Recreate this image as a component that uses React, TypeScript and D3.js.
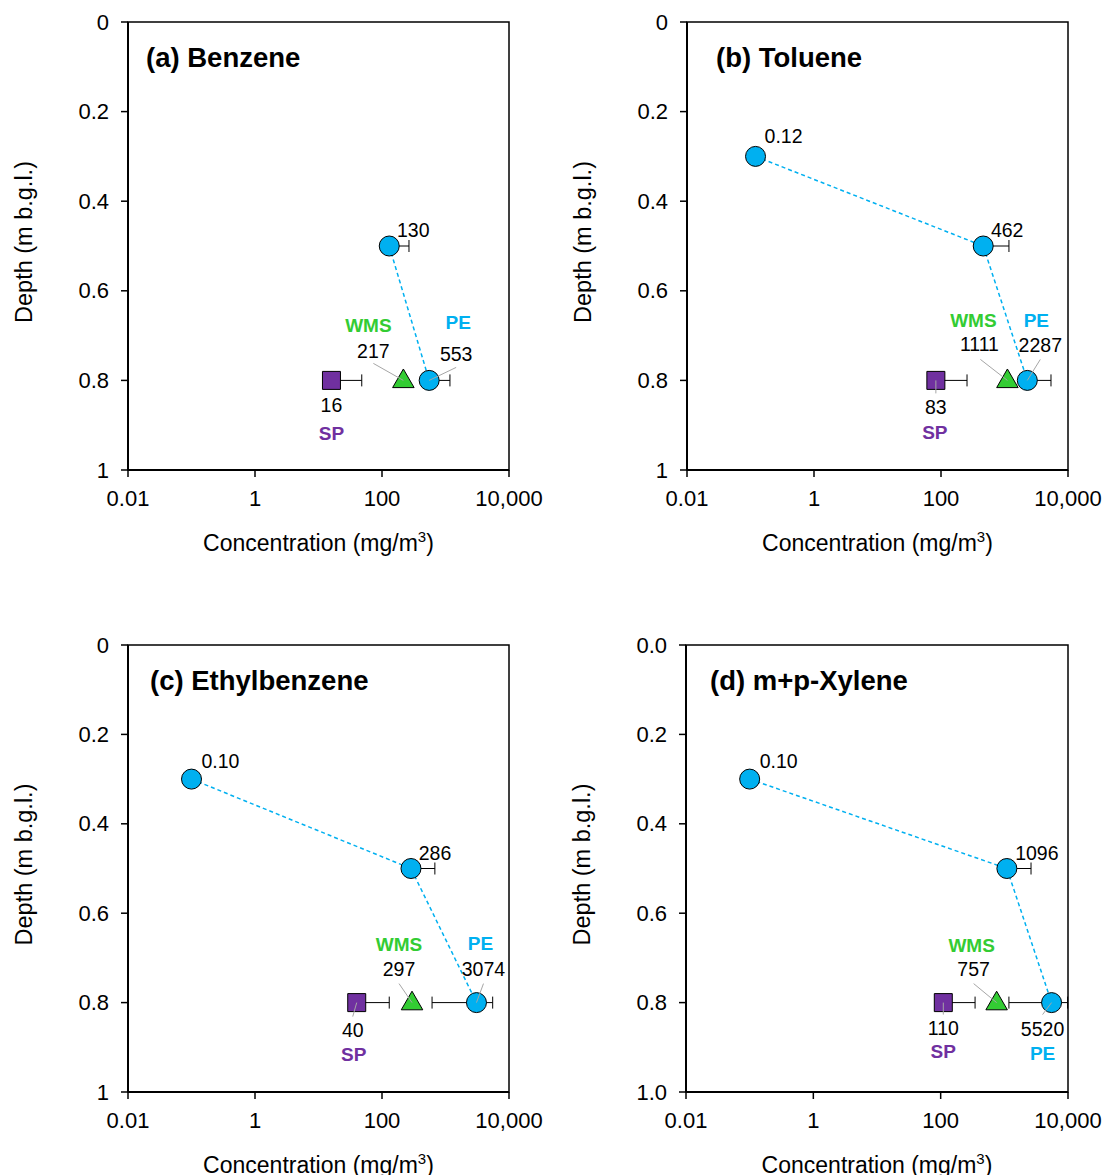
import React from "react";
import * as d3 from "d3";

// data
const panelTitles = ["(a) Benzene", "(b) Toluene", "(c) Ethylbenzene", "(d) m+p-Xylene"];
const peDepths = [[0.5, 0.8], [0.3, 0.5, 0.8], [0.3, 0.5, 0.8], [0.3, 0.5, 0.8]];
const peValues = [[130, 553], [0.12, 462, 2287], [0.1, 286, 3074], [0.1, 1096, 5520]];
const peSD = [[136, 622], [0, 713, 3110], [0, 394, 2460], [0, 1530, 4340]];
const sampleDepth = 0.8;
const wmsValues = [217, 1111, 297, 757];
const spValues = [16, 83, 40, 110];
const spSD = [32, 174, 90, 237];
const xTicks = [0.01, 1, 100, 10000];
const xTickLabels = ["0.01", "1", "100", "10,000"];
const yTicks = [0, 0.2, 0.4, 0.6, 0.8, 1];
const yTickLabels = [
  ["0", "0.2", "0.4", "0.6", "0.8", "1"],
  ["0", "0.2", "0.4", "0.6", "0.8", "1"],
  ["0", "0.2", "0.4", "0.6", "0.8", "1"],
  ["0.0", "0.2", "0.4", "0.6", "0.8", "1.0"],
];

const PE = "#00B0F0";
const WMS = "#33CC33";
const SP = "#7030A0";
const FONT = "'Liberation Sans', Arial, sans-serif";

// layout
const frames = [
  { x: 128, y: 22, w: 381, h: 448, tx: 18 },
  { x: 687, y: 22, w: 381, h: 448, tx: 29 },
  { x: 128, y: 645, w: 381, h: 447, tx: 22 },
  { x: 686, y: 645, w: 382, h: 447, tx: 24 },
];

type Lab = { dx: number; dy: number; ly?: number; lx?: number };
// value-label offsets from marker centre (ly = leader end offset)
const peLabs: Lab[][] = [
  [{ dx: 24, dy: -16 }, { dx: 27, dy: -26, lx: 27, ly: -13 }],
  [{ dx: 28, dy: -20 }, { dx: 24, dy: -16 }, { dx: 13, dy: -35, lx: 13, ly: -21 }],
  [{ dx: 29, dy: -18 }, { dx: 24, dy: -16 }, { dx: 7, dy: -34, lx: 7, ly: -19 }],
  [{ dx: 29, dy: -18 }, { dx: 30, dy: -16 }, { dx: -9, dy: 26, lx: -9, ly: 12 }],
];
const wmsLabs: Lab[] = [
  { dx: -30, dy: -29, lx: -30, ly: -17 },
  { dx: -28, dy: -36, lx: -27, ly: -21 },
  { dx: -13, dy: -34, lx: -13, ly: -19 },
  { dx: -23, dy: -34, lx: -23, ly: -19 },
];
const spLabs: Lab[] = [
  { dx: 0, dy: 25 },
  { dx: 0, dy: 27, lx: 0, ly: 13 },
  { dx: -4, dy: 27, lx: -4, ly: 14 },
  { dx: 0, dy: 25, lx: 0, ly: 12 },
];
const groupLabs = [
  { wms: [-35, -55], pe: [29, -58], sp: [0, 53] },
  { wms: [-34, -60], pe: [9, -60], sp: [-1, 52] },
  { wms: [-13, -58], pe: [4, -59], sp: [-3, 52] },
  { wms: [-25, -57], pe: [-9, 51], sp: [0, 49] },
];

const fmt = (v: number) => (v < 1 ? v.toFixed(2) : String(v));

const Panel = ({ i }: { i: number }) => {
  const f = frames[i];
  const x = d3.scaleLog().domain([0.01, 10000]).range([f.x, f.x + f.w]);
  const y = d3.scaleLinear().domain([0, 1]).range([f.y, f.y + f.h]);
  const xMin = 0.01, xMax = 10000;

  const pe = peValues[i].map((v, j) => ({ v, d: peDepths[i][j], sd: peSD[i][j], lab: peLabs[i][j] }));
  const last = pe[pe.length - 1];
  const line = d3.line<{ v: number; d: number }>().x((p) => x(p.v)).y((p) => y(p.d));

  const bars = [
    ...pe.map((p) => ({ v: p.v, d: p.d, sd: p.sd })),
    { v: spValues[i], d: sampleDepth, sd: spSD[i] },
  ].filter((b) => b.sd > 0);

  const circle = d3.symbol(d3.symbolCircle, Math.PI * 100)()!;
  const square = d3.symbol(d3.symbolSquare, 18 * 18)()!;
  const tri = d3.symbol(d3.symbolTriangle, 200)()!;

  const xw = x(wmsValues[i]), xs = x(spValues[i]), yb = y(sampleDepth);
  const xp = x(last.v);
  const g = groupLabs[i];

  const leader = (cx: number, cy: number, l: Lab) =>
    l.ly !== undefined ? (
      <line x1={cx + (l.lx ?? 0)} y1={cy + l.ly} x2={cx} y2={cy} stroke="#A6A6A6" strokeWidth={1} />
    ) : null;

  const valText = (cx: number, cy: number, l: Lab, t: string) => (
    <text x={cx + l.dx} y={cy + l.dy} textAnchor="middle" dominantBaseline="central" fontSize={19.5}>
      {t}
    </text>
  );

  return (
    <g fontFamily={FONT}>
      {/* frame */}
      <rect x={f.x} y={f.y} width={f.w} height={f.h} fill="none" stroke="#000" strokeWidth={1.5} />
      <line x1={f.x} x2={f.x} y1={f.y} y2={f.y + f.h} stroke="#000" strokeWidth={2} />
      <line x1={f.x} x2={f.x + f.w} y1={f.y + f.h} y2={f.y + f.h} stroke="#000" strokeWidth={2} />
      {yTicks.map((t, k) => (
        <g key={"y" + k}>
          <line x1={f.x - 7} x2={f.x} y1={y(t)} y2={y(t)} stroke="#000" strokeWidth={1.5} />
          <text x={f.x - 19} y={y(t)} textAnchor="end" dominantBaseline="central" fontSize={22}>
            {yTickLabels[i][k]}
          </text>
        </g>
      ))}
      {xTicks.map((t, k) => (
        <g key={"x" + k}>
          <line x1={x(t)} x2={x(t)} y1={f.y + f.h} y2={f.y + f.h + 7} stroke="#000" strokeWidth={1.5} />
          <text x={x(t)} y={f.y + f.h + 28} textAnchor="middle" dominantBaseline="central" fontSize={22}>
            {xTickLabels[k]}
          </text>
        </g>
      ))}
      <text
        transform={`translate(${f.x - 104},${f.y + f.h / 2 - 4}) rotate(-90)`}
        textAnchor="middle"
        dominantBaseline="central"
        fontSize={23.5}
      >
        Depth (m b.g.l.)
      </text>
      <text x={f.x + f.w / 2} y={f.y + f.h + 73} textAnchor="middle" dominantBaseline="central" fontSize={23}>
        Concentration (mg/m<tspan fontSize={15} dy={-7}>3</tspan>
        <tspan dy={7}>)</tspan>
      </text>
      <text x={f.x + f.tx} y={f.y + 35} dominantBaseline="central" fontSize={27.5} fontWeight="bold">
        {panelTitles[i]}
      </text>

      {/* PE profile */}
      <path d={line(pe)!} fill="none" stroke={PE} strokeWidth={1.5} strokeDasharray="4 3" />

      {/* error bars */}
      {bars.map((b, k) => {
        const lo = b.v - b.sd, hi = b.v + b.sd;
        const x1 = lo > xMin ? x(lo) : x(b.v);
        const x2 = x(Math.min(hi, xMax));
        const yy = y(b.d);
        return (
          <g key={"e" + k} stroke="#000" strokeWidth={1}>
            <line x1={x1} x2={x2} y1={yy} y2={yy} />
            {lo > xMin && <line x1={x1} x2={x1} y1={yy - 6} y2={yy + 6} />}
            {hi < xMax && <line x1={x2} x2={x2} y1={yy - 6} y2={yy + 6} />}
          </g>
        );
      })}

      {/* markers */}
      <path d={square} transform={`translate(${xs},${yb})`} fill={SP} stroke="#000" strokeWidth={1} />
      <path d={tri} transform={`translate(${xw},${yb + 1})`} fill={WMS} stroke="#000" strokeWidth={1} />
      {pe.map((p, k) => (
        <path key={"c" + k} d={circle} transform={`translate(${x(p.v)},${y(p.d)})`} fill={PE} stroke="#000" strokeWidth={1} />
      ))}

      {/* leaders and value labels */}
      {pe.map((p, k) => (
        <g key={"l" + k}>
          {leader(x(p.v), y(p.d), p.lab)}
          {valText(x(p.v), y(p.d), p.lab, fmt(p.v))}
        </g>
      ))}
      {leader(xw, yb, wmsLabs[i])}
      {valText(xw, yb, wmsLabs[i], fmt(wmsValues[i]))}
      {leader(xs, yb, spLabs[i])}
      {valText(xs, yb, spLabs[i], fmt(spValues[i]))}

      {/* group labels */}
      <text x={xw + g.wms[0]} y={yb + g.wms[1]} textAnchor="middle" dominantBaseline="central" fontSize={19} fontWeight="bold" fill={WMS}>
        WMS
      </text>
      <text x={xp + g.pe[0]} y={yb + g.pe[1]} textAnchor="middle" dominantBaseline="central" fontSize={19} fontWeight="bold" fill={PE}>
        PE
      </text>
      <text x={xs + g.sp[0]} y={yb + g.sp[1]} textAnchor="middle" dominantBaseline="central" fontSize={19} fontWeight="bold" fill={SP}>
        SP
      </text>
    </g>
  );
};

export default function App() {
  return (
    <svg
      width={1106}
      height={1175}
      style={{ position: "absolute", left: 0, top: 0, background: "#fff" }}
    >
      {panelTitles.map((_, i) => (
        <Panel key={i} i={i} />
      ))}
    </svg>
  );
}
